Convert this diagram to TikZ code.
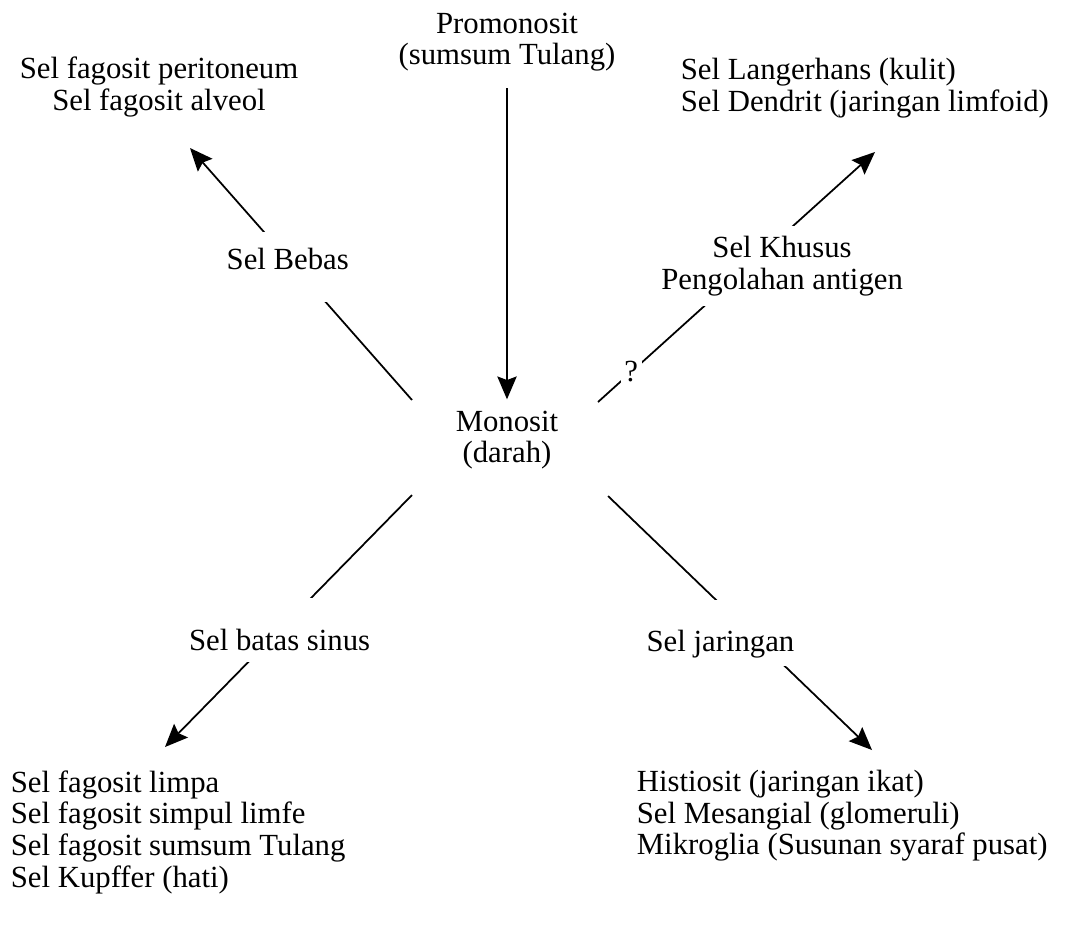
\documentclass[tikz,border=0pt]{standalone}
\usepackage{fontspec}
\setmainfont{Liberation Serif}
\usetikzlibrary{arrows.meta}
\tikzset{
    >={Stealth[length=13pt,width=11pt,inset=2pt]},
    sel/.append style={align=center,inner sep=0pt,font=\fontsize{17.5}{18}\selectfont},
    daftar/.append style={sel,align=left,anchor=west},
    ket/.append style={sel,fill=white,inner xsep=2pt},
}
\begin{document}
\begin{tikzpicture}[x=0.02cm,y=-0.02cm,line width=1pt]
    \useasboundingbox (0,0) rectangle (1081,938);

    \node[sel] (promo) at (507,42) {Promonosit\\(sumsum Tulang)};
    \node[sel] (mono) at (507,440) {Monosit\\(darah)};
    \node[sel] (peri) at (159,87) {Sel fagosit peritoneum\\Sel fagosit alveol};
    \node[daftar] (langer) at (680,88) {Sel Langerhans (kulit)\\Sel Dendrit (jaringan limfoid)};
    \node[daftar] (limpa) at (10,832) {Sel fagosit limpa\\Sel fagosit simpul limfe\\Sel fagosit sumsum Tulang\\Sel Kupffer (hati)};
    \node[daftar] (histio) at (636,816) {Histiosit (jaringan ikat)\\Sel Mesangial (glomeruli)\\Mikroglia (Susunan syaraf pusat)};

    % ujung garis dekat monosit dan ujung panah
    \coordinate (aNW) at (412,400);  \coordinate (tNW) at (190,148);
    \coordinate (aNE) at (598,402);  \coordinate (tNE) at (875,152);
    \coordinate (aSW) at (412,495);  \coordinate (tSW) at (165,747);
    \coordinate (aSE) at (608,496);  \coordinate (tSE) at (872,750);

    \draw[->,shorten <=9pt,shorten >=6pt] (promo) -- (mono);

    \draw[->] (aNW) -- node[ket,pos=0.528,xshift=-4pt,text height=21.5pt,text depth=18.1pt] (bebas) {Sel Bebas} (tNW);
    \draw[->] (aNE) -- node[ket,pos=0.12,inner ysep=3pt] (tanya) {?}
                       node[ket,pos=0.544,xshift=19pt,inner ysep=6pt] (khusus) {Sel Khusus\\Pengolahan antigen} (tNE);
    \draw[->] (aSW) -- node[ket,pos=0.536,text height=29.5pt,text depth=6.8pt] (batas) {Sel batas sinus} (tSW);
    \draw[->] (aSE) -- node[ket,pos=0.539,xshift=-17pt,text height=29.5pt,text depth=8pt] (jaringan) {Sel jaringan} (tSE);
\end{tikzpicture}
\end{document}
